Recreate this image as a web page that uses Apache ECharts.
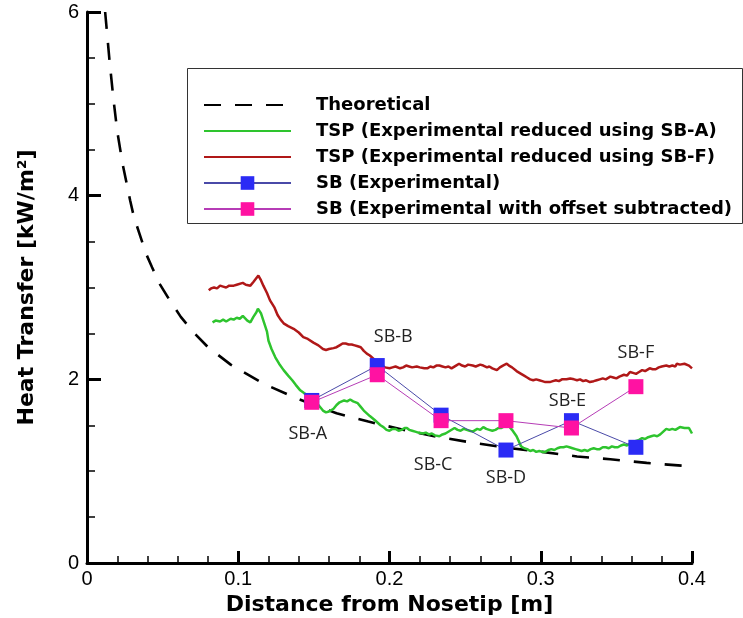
<!DOCTYPE html>
<html>
<head>
<meta charset="utf-8">
<script src="https://cdn.jsdelivr.net/npm/echarts@6/dist/echarts.min.js"></script>
<style>
  html, body { margin: 0; padding: 0; background: #fff; }
  #chart { width: 743px; height: 618px; }
</style>
</head>
<body>
<div id="chart"></div>
<script>
// Theoretical heat-transfer distribution along the body
const theoryX = [0.012, 0.015, 0.0175, 0.02, 0.0235, 0.0285, 0.031, 0.035, 0.039, 0.043, 0.048, 0.054, 0.062, 0.07, 0.08, 0.095, 0.117, 0.139, 0.165, 0.186, 0.209, 0.233, 0.255, 0.28, 0.301, 0.324, 0.346, 0.37, 0.393, 0.4];
const theoryY = [6.0, 5.45, 5.05, 4.7, 4.35, 3.95, 3.77, 3.57, 3.37, 3.22, 3.04, 2.88, 2.68, 2.52, 2.35, 2.16, 1.95, 1.79, 1.63, 1.54, 1.45, 1.37, 1.31, 1.25, 1.21, 1.16, 1.13, 1.09, 1.06, 1.05];

// TSP, reduced using SB-A
const tspAX = [0.083, 0.085, 0.088, 0.09, 0.092, 0.095, 0.097, 0.099, 0.101, 0.103, 0.106, 0.108, 0.110, 0.112, 0.113, 0.115, 0.117, 0.119, 0.120, 0.122, 0.1245, 0.127, 0.130, 0.133, 0.1357, 0.138, 0.141, 0.1435, 0.1455, 0.148, 0.150, 0.153, 0.156, 0.158, 0.160, 0.163, 0.165, 0.167, 0.170, 0.172, 0.174, 0.176, 0.179, 0.181, 0.183, 0.185, 0.187, 0.190, 0.192, 0.194, 0.196, 0.198, 0.200, 0.202, 0.204, 0.206, 0.208, 0.210, 0.2115, 0.213, 0.215, 0.217, 0.219, 0.222, 0.224, 0.226, 0.228, 0.230, 0.233, 0.235, 0.237, 0.240, 0.243, 0.245, 0.247, 0.249, 0.251, 0.253, 0.255, 0.258, 0.260, 0.262, 0.264, 0.266, 0.268, 0.270, 0.272, 0.274, 0.276, 0.2775, 0.279, 0.281, 0.284, 0.287, 0.289, 0.291, 0.293, 0.295, 0.297, 0.299, 0.301, 0.303, 0.305, 0.307, 0.309, 0.311, 0.313, 0.315, 0.317, 0.319, 0.321, 0.323, 0.325, 0.327, 0.329, 0.331, 0.333, 0.335, 0.337, 0.339, 0.341, 0.343, 0.345, 0.347, 0.349, 0.351, 0.353, 0.355, 0.357, 0.359, 0.361, 0.363, 0.365, 0.367, 0.369, 0.371, 0.373, 0.375, 0.377, 0.379, 0.381, 0.383, 0.385, 0.387, 0.389, 0.390, 0.392, 0.393, 0.395, 0.396, 0.398, 0.399, 0.400];
const tspAY = [2.62, 2.64, 2.63, 2.65, 2.63, 2.66, 2.65, 2.67, 2.66, 2.69, 2.64, 2.62, 2.68, 2.73, 2.77, 2.72, 2.62, 2.52, 2.42, 2.33, 2.24, 2.17, 2.10, 2.04, 1.99, 1.94, 1.88, 1.85, 1.83, 1.80, 1.77, 1.72, 1.66, 1.64, 1.65, 1.68, 1.72, 1.75, 1.77, 1.76, 1.78, 1.76, 1.74, 1.70, 1.66, 1.63, 1.60, 1.56, 1.53, 1.50, 1.48, 1.45, 1.44, 1.46, 1.46, 1.44, 1.45, 1.47, 1.47, 1.45, 1.44, 1.43, 1.42, 1.41, 1.42, 1.40, 1.41, 1.39, 1.38, 1.40, 1.41, 1.44, 1.47, 1.45, 1.44, 1.46, 1.45, 1.44, 1.43, 1.46, 1.45, 1.48, 1.46, 1.45, 1.44, 1.45, 1.47, 1.47, 1.49, 1.52, 1.49, 1.45, 1.38, 1.27, 1.25, 1.24, 1.22, 1.23, 1.21, 1.22, 1.21, 1.21, 1.23, 1.24, 1.23, 1.25, 1.26, 1.26, 1.27, 1.26, 1.25, 1.24, 1.23, 1.22, 1.23, 1.22, 1.24, 1.25, 1.24, 1.24, 1.26, 1.26, 1.25, 1.27, 1.26, 1.26, 1.28, 1.29, 1.28, 1.30, 1.31, 1.33, 1.34, 1.36, 1.35, 1.37, 1.38, 1.39, 1.38, 1.40, 1.43, 1.46, 1.45, 1.46, 1.45, 1.47, 1.48, 1.46, 1.47, 1.48, 1.47, 1.44, 1.41, 1.37];

// TSP, reduced using SB-F
const tspFX = [0.0805, 0.082, 0.084, 0.086, 0.088, 0.090, 0.092, 0.094, 0.097, 0.099, 0.100, 0.103, 0.105, 0.106, 0.108, 0.110, 0.111, 0.1133, 0.115, 0.1166, 0.119, 0.121, 0.124, 0.126, 0.128, 0.130, 0.133, 0.1366, 0.140, 0.143, 0.146, 0.1497, 0.153, 0.156, 0.158, 0.160, 0.163, 0.165, 0.167, 0.169, 0.171, 0.173, 0.175, 0.177, 0.179, 0.181, 0.183, 0.185, 0.187, 0.189, 0.191, 0.194, 0.197, 0.200, 0.202, 0.204, 0.207, 0.209, 0.211, 0.213, 0.215, 0.218, 0.220, 0.223, 0.225, 0.227, 0.229, 0.231, 0.233, 0.235, 0.237, 0.239, 0.241, 0.244, 0.246, 0.248, 0.250, 0.252, 0.253, 0.255, 0.257, 0.260, 0.262, 0.2645, 0.266, 0.268, 0.271, 0.273, 0.275, 0.2775, 0.279, 0.281, 0.284, 0.287, 0.289, 0.291, 0.293, 0.295, 0.297, 0.299, 0.301, 0.303, 0.306, 0.308, 0.310, 0.312, 0.314, 0.317, 0.3195, 0.322, 0.324, 0.326, 0.328, 0.330, 0.3325, 0.335, 0.337, 0.339, 0.341, 0.343, 0.346, 0.348, 0.350, 0.352, 0.355, 0.357, 0.359, 0.361, 0.363, 0.365, 0.367, 0.369, 0.372, 0.374, 0.376, 0.378, 0.380, 0.383, 0.385, 0.387, 0.389, 0.390, 0.392, 0.393, 0.395, 0.396, 0.398, 0.400];
const tspFY = [2.97, 2.99, 3.00, 2.99, 3.02, 3.01, 3.00, 3.02, 3.02, 3.03, 3.04, 3.05, 3.03, 3.03, 3.02, 3.06, 3.08, 3.13, 3.08, 3.02, 2.94, 2.86, 2.78, 2.70, 2.65, 2.61, 2.58, 2.55, 2.51, 2.46, 2.44, 2.40, 2.37, 2.33, 2.32, 2.33, 2.34, 2.35, 2.37, 2.39, 2.39, 2.38, 2.38, 2.37, 2.36, 2.35, 2.31, 2.28, 2.26, 2.23, 2.20, 2.16, 2.13, 2.12, 2.13, 2.14, 2.12, 2.13, 2.15, 2.14, 2.13, 2.14, 2.13, 2.12, 2.12, 2.14, 2.13, 2.15, 2.15, 2.14, 2.13, 2.14, 2.12, 2.15, 2.17, 2.15, 2.14, 2.16, 2.15, 2.15, 2.14, 2.16, 2.15, 2.13, 2.14, 2.12, 2.10, 2.13, 2.15, 2.17, 2.15, 2.13, 2.09, 2.06, 2.04, 2.02, 2.00, 1.99, 2.00, 1.99, 1.98, 1.97, 1.97, 1.98, 1.99, 1.98, 2.00, 2.00, 2.01, 2.00, 1.99, 2.00, 1.98, 1.99, 1.97, 1.98, 1.99, 2.00, 2.01, 2.00, 2.03, 2.02, 2.01, 2.03, 2.05, 2.04, 2.08, 2.07, 2.06, 2.08, 2.10, 2.09, 2.12, 2.11, 2.11, 2.13, 2.14, 2.15, 2.14, 2.15, 2.14, 2.17, 2.16, 2.16, 2.17, 2.18, 2.15, 2.12, 2.09];

// Slug-calorimeter gauges
const sbNames = ['SB-A', 'SB-B', 'SB-C', 'SB-D', 'SB-E', 'SB-F'];
const sbX = [0.1486, 0.1919, 0.2341, 0.277, 0.3203, 0.3629];
const sbExp = [1.77, 2.15, 1.61, 1.23, 1.55, 1.26];
const sbOffset = [1.75, 2.05, 1.55, 1.55, 1.47, 1.92];

// Where each gauge name sits relative to its SB (Experimental) marker
const sbLabelShift = [[-4, 33], [16, -29], [-8, 50], [0, 28], [-4, -20], [0, -94]];

const zip = (xs, ys) => xs.map((x, i) => [x, ys[i]]);

const chart = echarts.init(document.getElementById('chart'), null, { renderer: 'canvas' });

const boldFont = 'DejaVu Sans, Verdana, sans-serif';

chart.setOption({
  backgroundColor: '#fff',
  animation: false,
  grid: { left: 87, right: 51, top: 12, bottom: 55, containLabel: false, outerBoundsMode: 'none' },
  xAxis: {
    type: 'value', min: 0, max: 0.4, interval: 0.1,
    name: 'Distance from Nosetip [m]', nameLocation: 'middle', nameGap: 25,
    nameTextStyle: { fontFamily: boldFont, fontWeight: 'bold', fontSize: 22, color: '#000', verticalAlign: 'top' },
    axisLine: { lineStyle: { color: '#000', width: 3 } },
    axisTick: { inside: true, length: 12, lineStyle: { color: '#000', width: 3 } },
    minorTick: { show: true, splitNumber: 5, length: 7, lineStyle: { color: '#000', width: 1.5 } },
    axisLabel: { margin: 6, fontFamily: 'Liberation Sans, Arial', fontSize: 20, color: '#000', formatter: v => String(+v.toFixed(1)) },
    splitLine: { show: false }
  },
  yAxis: {
    type: 'value', min: 0, max: 6, interval: 2,
    name: 'Heat Transfer [kW/m²]', nameLocation: 'middle', nameGap: 49, nameRotate: 90,
    nameTextStyle: { fontFamily: boldFont, fontWeight: 'bold', fontSize: 22, color: '#000' },
    axisLine: { lineStyle: { color: '#000', width: 3 } },
    axisTick: { inside: true, length: 14, lineStyle: { color: '#000', width: 3 } },
    minorTick: { show: true, splitNumber: 4, length: 8, lineStyle: { color: '#000', width: 1.5 } },
    axisLabel: { margin: 8, fontFamily: 'Liberation Sans, Arial', fontSize: 20, color: '#000' },
    splitLine: { show: false }
  },
  graphic: [{
    type: 'rect', left: 187, top: 68, z: 0,
    shape: { width: 555, height: 155 },
    style: { fill: '#fff', stroke: '#333', lineWidth: 1 }
  }],
  legend: {
    orient: 'vertical', left: 203, top: 96, itemWidth: 87, itemHeight: 17, itemGap: 8,
    padding: 0, z: 5,
    textStyle: { padding: [0, 0, 0, 20], fontFamily: boldFont, fontWeight: 'bold', fontSize: 18, color: '#000' },
    data: [
      { name: 'Theoretical', itemStyle: { opacity: 0 } },
      { name: 'TSP (Experimental reduced using SB-A)', itemStyle: { opacity: 0 } },
      { name: 'TSP (Experimental reduced using SB-F)', itemStyle: { opacity: 0 } },
      'SB (Experimental)',
      'SB (Experimental with offset subtracted)'
    ]
  },
  series: [
    {
      name: 'Theoretical', type: 'line', data: zip(theoryX, theoryY), showSymbol: false, symbol: 'none',
      lineStyle: { color: '#000', width: 2.6, type: [17, 14] }, itemStyle: { color: '#000' }, z: 2
    },
    {
      name: 'TSP (Experimental reduced using SB-A)', type: 'line', data: zip(tspAX, tspAY), showSymbol: false, symbol: 'none',
      lineStyle: { color: '#2ec42e', width: 2.5 }, itemStyle: { color: '#2ec42e' }, z: 3
    },
    {
      name: 'TSP (Experimental reduced using SB-F)', type: 'line', data: zip(tspFX, tspFY), showSymbol: false, symbol: 'none',
      lineStyle: { color: '#b01818', width: 2.5 }, itemStyle: { color: '#b01818' }, z: 3
    },
    {
      name: 'SB (Experimental)', type: 'line', symbol: 'rect', symbolSize: 15,
      data: sbX.map((x, i) => ({
        value: [x, sbExp[i]],
        label: {
          show: true, position: 'inside', offset: sbLabelShift[i], formatter: sbNames[i],
          fontFamily: 'Open Sans, sans-serif', fontSize: 18, color: '#222'
        }
      })),
      lineStyle: { color: '#4a4aa8', width: 1 }, itemStyle: { color: '#2b2bf5' }, z: 4
    },
    {
      name: 'SB (Experimental with offset subtracted)', type: 'line', symbol: 'rect', symbolSize: 15,
      data: zip(sbX, sbOffset),
      lineStyle: { color: '#b63cb6', width: 1 }, itemStyle: { color: '#ff12a2' }, z: 5
    }
  ]
});
</script>
</body>
</html>
